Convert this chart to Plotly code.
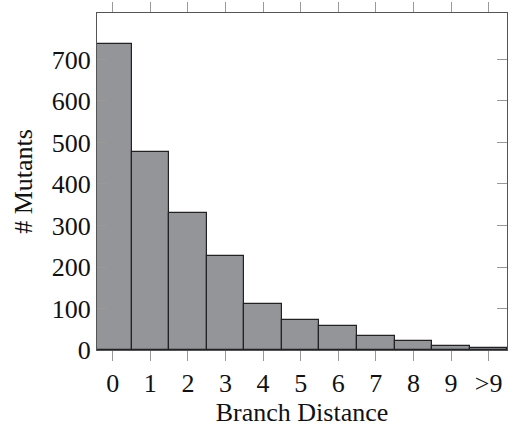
import plotly.graph_objects as go

categories = ["0", "1", "2", "3", "4", "5", "6", "7", "8", "9", ">9"]
mutants = [737, 477, 329, 226, 110, 72, 57, 33, 21, 9, 5]

fig = go.Figure(go.Bar(
    x=list(range(len(categories))),
    y=mutants,
    width=1,
    marker=dict(color="#939598", line=dict(color="#222222", width=1.2)),
))

font = dict(family="Liberation Serif, Times New Roman, serif", size=26, color="#111111")

fig.update_layout(
    width=520, height=430,
    margin=dict(l=97, r=13, t=13, b=80, autoexpand=False),
    plot_bgcolor="white", paper_bgcolor="white",
    showlegend=False,
    font=font,
    bargap=0,
)
fig.update_xaxes(
    range=[-0.42, 10.49],
    tickmode="array",
    tickvals=list(range(len(categories))),
    ticktext=categories,
    ticks="outside", ticklen=10, tickcolor="#999999", tickwidth=1,
    showline=True, linecolor="#555555", linewidth=1.2, mirror="ticks",
    showgrid=False, zeroline=False, automargin=False,
    title=dict(text="Branch Distance", font=dict(size=26), standoff=5),
    tickfont=dict(size=26),
)
fig.update_yaxes(
    range=[0, 812],
    tickvals=[0, 100, 200, 300, 400, 500, 600, 700],
    ticks="inside", ticklen=10, tickcolor="#999999", tickwidth=1,
    showline=True, linecolor="#555555", linewidth=1.2, mirror="ticks",
    showgrid=False, zeroline=False, automargin=False,
    title=dict(text="# Mutants", font=dict(size=26), standoff=11),
    tickfont=dict(size=26),
)

fig.write_html("out.html", config={"displayModeBar": False})
with open("out.html", encoding="utf-8") as f:
    html = f.read()
html = html.replace("<body>", '<body style="margin:0;padding:0">', 1)
with open("out.html", "w", encoding="utf-8") as f:
    f.write(html)
